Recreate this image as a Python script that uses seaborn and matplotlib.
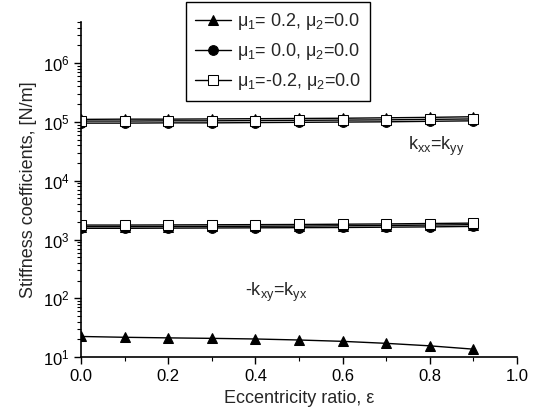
import matplotlib
matplotlib.use("Agg")
import matplotlib.pyplot as plt
from matplotlib.ticker import FixedLocator, NullFormatter
import numpy as np
import seaborn as sns

# eccentricity ratio
eps = [0.0, 0.1, 0.2, 0.3, 0.4, 0.5, 0.6, 0.7, 0.8, 0.9]

# direct stiffness kxx = kyy [N/m]
kxx_p02 = [1.10e5, 1.11e5, 1.11e5, 1.12e5, 1.13e5, 1.14e5, 1.15e5, 1.17e5, 1.19e5, 1.22e5]
kxx_00 = [0.95e5, 0.95e5, 0.96e5, 0.96e5, 0.97e5, 0.98e5, 0.99e5, 1.00e5, 1.02e5, 1.04e5]
kxx_m02 = [1.03e5, 1.03e5, 1.04e5, 1.04e5, 1.05e5, 1.06e5, 1.07e5, 1.08e5, 1.10e5, 1.12e5]

# cross-coupled stiffness -kxy = kyx [N/m]
kxy_p02 = [1.65e3, 1.65e3, 1.66e3, 1.67e3, 1.68e3, 1.69e3, 1.71e3, 1.73e3, 1.76e3, 1.79e3]
kxy_00 = [1.55e3, 1.55e3, 1.56e3, 1.57e3, 1.58e3, 1.59e3, 1.60e3, 1.62e3, 1.64e3, 1.67e3]
kxy_m02 = [1.76e3, 1.76e3, 1.77e3, 1.78e3, 1.79e3, 1.80e3, 1.82e3, 1.84e3, 1.87e3, 1.90e3]

# lowest curve (triangles)
klow_p02 = [22.5, 21.8, 21.3, 20.9, 20.4, 19.6, 18.6, 17.2, 15.6, 13.7]

labels = [r"$\mu_1$= 0.2, $\mu_2$=0.0", r"$\mu_1$= 0.0, $\mu_2$=0.0", r"$\mu_1$=-0.2, $\mu_2$=0.0"]

sns.set_style("ticks")
plt.rcParams["font.family"] = ["Liberation Sans", "DejaVu Sans"]
plt.rcParams["mathtext.fontset"] = "custom"
plt.rcParams["mathtext.rm"] = "Liberation Sans"
plt.rcParams["mathtext.it"] = "Liberation Sans"

fig = plt.figure(figsize=(5.34, 4.12), dpi=100)
ax = fig.add_axes([0.152, 0.133, 0.816, 0.814])

styles = [
    dict(marker="^", color="black", markerfacecolor="black", markeredgecolor="black"),
    dict(marker="o", color="black", markerfacecolor="black", markeredgecolor="black"),
    dict(marker="s", color="black", markerfacecolor="white", markeredgecolor="black"),
]
groups = [(kxx_p02, kxy_p02), (kxx_00, kxy_00), (kxx_m02, kxy_m02)]
for (kxx, kxy), st, lab in zip(groups, styles, labels):
    sns.lineplot(x=eps, y=kxx, ax=ax, markersize=7, linewidth=1.0, label=lab, **st)
    sns.lineplot(x=eps, y=kxy, ax=ax, markersize=7, linewidth=1.0, **st)
sns.lineplot(x=eps, y=klow_p02, ax=ax, markersize=7, linewidth=1.0, **styles[0])

ax.set_yscale("log")
ax.set_xlim(0.0, 1.0)
ax.set_ylim(10, 5e6)
sns.despine(ax=ax)

ax.set_xticks([0.0, 0.2, 0.4, 0.6, 0.8, 1.0])
ax.set_xticklabels(["0.0", "0.2", "0.4", "0.6", "0.8", "1.0"])
ax.xaxis.set_minor_locator(FixedLocator([0.1, 0.3, 0.5, 0.7, 0.9]))
ax.set_yticks([1e1, 1e2, 1e3, 1e4, 1e5, 1e6])
minor_y = [m * 10.0 ** d for d in range(1, 7) for m in range(2, 10)]
ax.yaxis.set_minor_locator(FixedLocator(minor_y))
ax.yaxis.set_minor_formatter(NullFormatter())
ax.tick_params(axis="both", which="major", labelsize=12, length=5, width=1.0, direction="out",
               color="black", labelcolor="black", bottom=True, left=True)
ax.tick_params(axis="both", which="minor", length=3, width=0.8, direction="out",
               color="black", bottom=True, left=True)
for s in ["left", "bottom"]:
    ax.spines[s].set_linewidth(1.2)
    ax.spines[s].set_color("black")

ax.set_xlabel("Eccentricity ratio, ε", fontsize=13)
ax.set_ylabel("Stiffness coefficients, [N/m]", fontsize=13)

ax.text(0.75, 3.3e4, r"k$_{xx}$=k$_{yy}$", fontsize=13)
ax.text(0.375, 1.1e2, r"-k$_{xy}$=k$_{yx}$", fontsize=13)

leg = ax.legend(loc="upper left", bbox_to_anchor=(0.22, 1.085), fontsize=13,
                frameon=True, fancybox=False, edgecolor="black", framealpha=1,
                handlelength=2.0, handletextpad=0.3, borderpad=0.5, labelspacing=0.5)
leg.get_frame().set_linewidth(1.0)

fig.savefig("out.png", dpi=100)
